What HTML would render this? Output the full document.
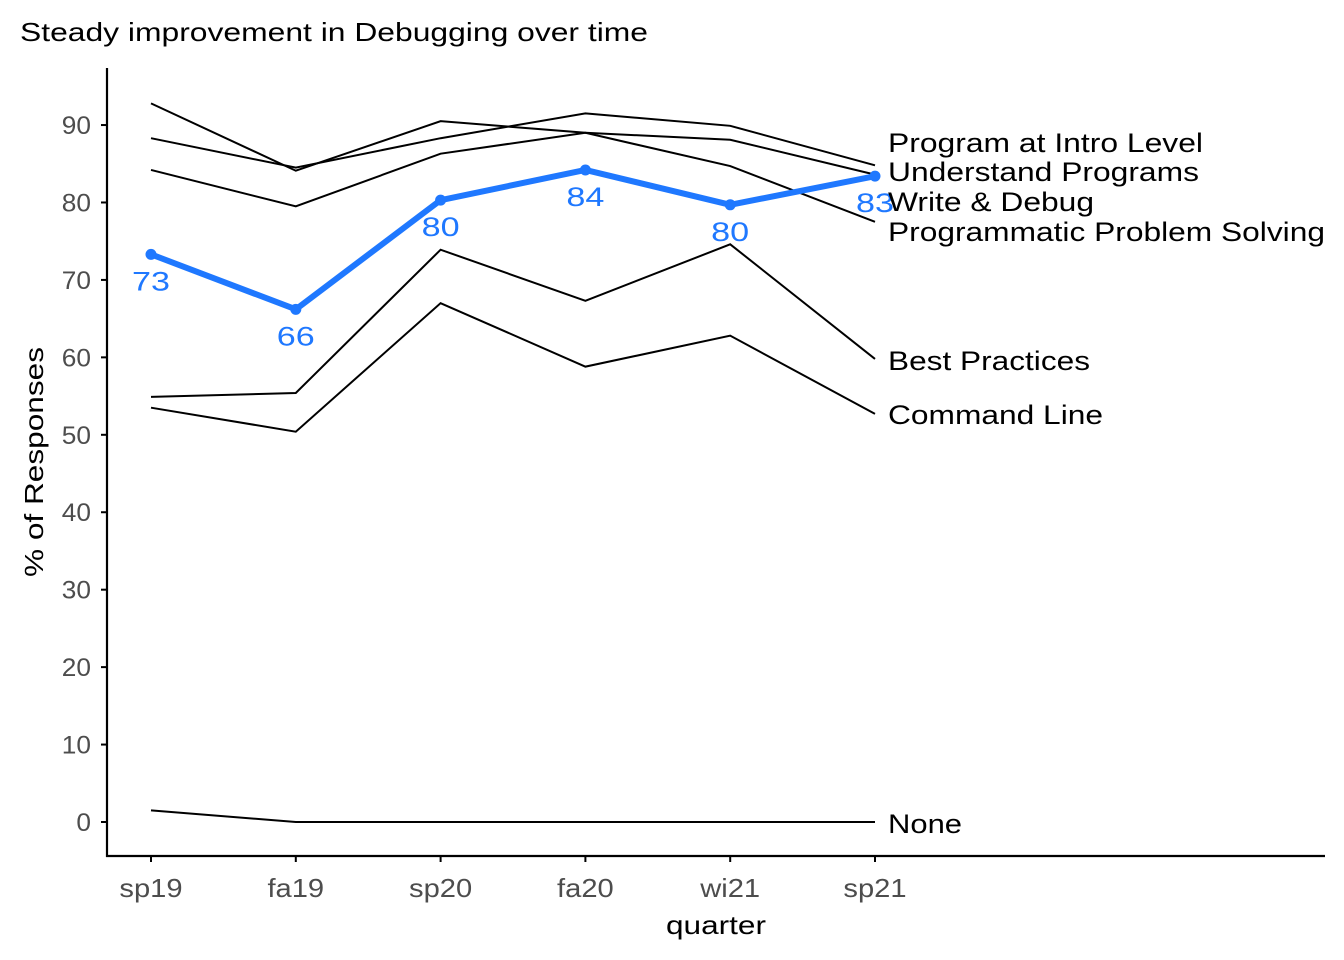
<!DOCTYPE html>
<html><head><meta charset="utf-8"><style>
body{margin:0;background:#fff;}
svg{font-family:"Liberation Sans",Arial,sans-serif;display:block}
</style></head><body>
<svg width="1344" height="960">
<text x="20" y="41" font-size="26" textLength="628" lengthAdjust="spacingAndGlyphs">Steady improvement in Debugging over time</text>
<g id="axes"></g>
<g id="lines"></g>
<g id="labels"></g>
<text transform="translate(43,462) rotate(-90)" text-anchor="middle" font-size="26" textLength="230" lengthAdjust="spacingAndGlyphs">% of Responses</text>
<text x="716" y="934" text-anchor="middle" font-size="26" textLength="100" lengthAdjust="spacingAndGlyphs">quarter</text>
</svg>
<script>
const quarters=["sp19","fa19","sp20","fa20","wi21","sp21"];
const yTicks=[0,10,20,30,40,50,60,70,80,90];
const seriesNames=["Program at Intro Level","Understand Programs","Programmatic Problem Solving","Best Practices","Command Line","None"];
const introLevel=[88.3,84.5,88.3,91.5,89.9,84.8];
const understand=[84.2,79.5,86.3,89.0,88.1,83.6];
const problemSolving=[92.8,84.1,90.5,89.0,84.7,77.5];
const bestPractices=[54.9,55.4,73.9,67.3,74.6,59.8];
const commandLine=[53.5,50.4,67.0,58.8,62.8,52.7];
const noneVals=[1.5,0,0,0,0,0];
const debugVals=[73.3,66.2,80.3,84.2,79.7,83.4];
const labelY=[142,171,231,360,414,823];
const labelW=[315,311,437,202,215,74];
const NS="http://www.w3.org/2000/svg";
const x=i=>151+i*144.8;
const y=v=>822-v*7.744;
function mk(tag,attrs,parent){const e=document.createElementNS(NS,tag);for(const k in attrs)e.setAttribute(k,attrs[k]);parent.appendChild(e);return e;}
function stretch(t,f){const w=t.getComputedTextLength();t.setAttribute('textLength',w*f);t.setAttribute('lengthAdjust','spacingAndGlyphs');}
const ax=document.getElementById('axes');
let l=mk('line',{x1:107,y1:68,x2:107,y2:857,stroke:'#000','stroke-width':2.2},ax);


l=mk('line',{x1:106,y1:856,x2:1325,y2:856,stroke:'#000','stroke-width':2.2},ax);


yTicks.forEach(t=>{
 const tk=mk('line',{x1:101,x2:107,y1:y(t),y2:y(t),stroke:'#000','stroke-width':2},ax);
 
 
 const tx=mk('text',{x:91,y:y(t)+9,'text-anchor':'end','font-size':25,fill:'#4d4d4d'},ax);
 tx.textContent=t;
 
 
 stretch(tx,1.05);
});
quarters.forEach((q,i)=>{
 const tk=mk('line',{x1:x(i),x2:x(i),y1:856,y2:862,stroke:'#000','stroke-width':2},ax);
 
 
 const tx=mk('text',{x:x(i),y:897,'text-anchor':'middle','font-size':26,fill:'#4d4d4d'},ax);
 tx.textContent=q;
 
 
 stretch(tx,1.12);
});
const lg=document.getElementById('lines'),lb=document.getElementById('labels');
[introLevel,understand,problemSolving,bestPractices,commandLine,noneVals].forEach((s,k)=>{
 const p=mk('polyline',{points:s.map((v,i)=>x(i)+','+y(v)).join(' '),fill:'none',stroke:'#000','stroke-width':2},lg);
 
 
 const t=mk('text',{x:888,y:labelY[k]+10,'font-size':27,textLength:labelW[k],lengthAdjust:'spacingAndGlyphs'},lb);
 t.textContent=seriesNames[k];
 
 
});
const dl=mk('polyline',{points:debugVals.map((v,i)=>x(i)+','+y(v)).join(' '),fill:'none',stroke:'#1f78ff','stroke-width':6,'stroke-linejoin':'round'},lg);


debugVals.forEach((v,i)=>{
 const c=mk('circle',{cx:x(i),cy:y(v),r:5.5,fill:'#1f78ff'},lg);
 
 
 const t=mk('text',{x:x(i),y:y(v)+36,'text-anchor':'middle','font-size':27,fill:'#1f78ff',textLength:38,lengthAdjust:'spacingAndGlyphs'},lb);
 t.textContent=Math.round(v);
 
 
});
const wd=mk('text',{x:888,y:211,'font-size':27,textLength:206,lengthAdjust:'spacingAndGlyphs'},lb);
wd.textContent="Write & Debug";


</script>
</body></html>
